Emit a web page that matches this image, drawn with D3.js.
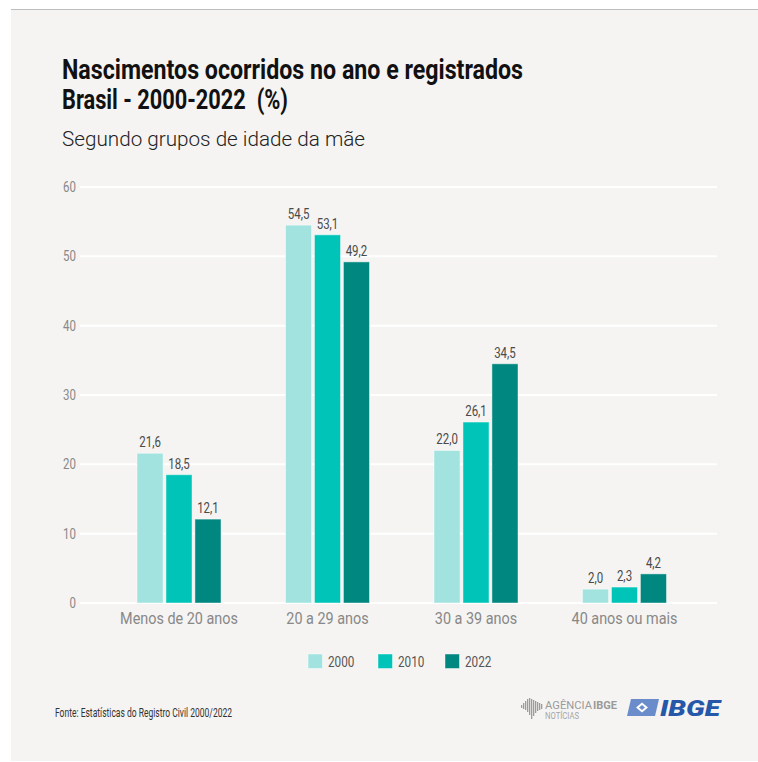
<!DOCTYPE html>
<html>
<head>
<meta charset="utf-8">
<script src="https://cdn.jsdelivr.net/npm/d3@7"></script>
<style>
  body { margin: 0; background: #ffffff; }
  svg { display: block; }
  text { font-family: Roboto, "Noto Sans", sans-serif; }
</style>
</head>
<body>
<svg id="chart" width="758" height="762"></svg>
<script>
// Age groups of the mother
const categories = ["Menos de 20 anos", "20 a 29 anos", "30 a 39 anos", "40 anos ou mais"];
// Survey years
const years = ["2000", "2010", "2022"];
// Share of births (%) by year
const values2000 = [21.6, 54.5, 22.0, 2.0];
const values2010 = [18.5, 53.1, 26.1, 2.3];
const values2022 = [12.1, 49.2, 34.5, 4.2];
const yTicks = [0, 10, 20, 30, 40, 50, 60];
const colors = ["#a2e3e0", "#00c4b8", "#00877f"];

const series = [values2000, values2010, values2022];
const fmt = v => d3.format(".1f")(v).replace(".", ",");

const svg = d3.select("#chart");

// panel background and top rule
svg.append("rect").attr("x", 11).attr("y", 9).attr("width", 747).attr("height", 752).attr("fill", "#f5f4f2");
svg.append("line").attr("x1", 11).attr("x2", 758).attr("y1", 9.5).attr("y2", 9.5).attr("stroke", "#bdbdbd").attr("stroke-width", 1);

// horizontally condensed text helper
function ctext(g, x, y, str, opts) {
  const o = Object.assign({ size: 14, sx: 0.84, fill: "#333", anchor: "start", weight: 400 }, opts || {});
  return g.append("text")
    .attr("transform", `translate(${x},${y}) scale(${o.sx},1)`)
    .attr("font-size", o.size)
    .attr("font-weight", o.weight)
    .attr("fill", o.fill)
    .attr("text-anchor", o.anchor)
    .text(str);
}

// title block
svg.append("text").attr("x", 62).attr("y", 78.5).attr("font-size", 27).attr("font-weight", 700)
  .attr("fill", "#111").attr("textLength", 461).attr("lengthAdjust", "spacingAndGlyphs")
  .text("Nascimentos ocorridos no ano e registrados");
svg.append("text").attr("x", 62).attr("y", 109).attr("font-size", 27).attr("font-weight", 700)
  .attr("fill", "#111").attr("textLength", 226).attr("lengthAdjust", "spacingAndGlyphs")
  .style("white-space", "pre")
  .text("Brasil - 2000-2022  (%)");
svg.append("text").attr("x", 62).attr("y", 146).attr("font-size", 21).attr("font-weight", 300)
  .attr("fill", "#222").attr("textLength", 303).attr("lengthAdjust", "spacingAndGlyphs")
  .text("Segundo grupos de idade da mãe");

// scales
const y = d3.scaleLinear().domain([0, 60]).range([603, 187]);
const x0 = d3.scalePoint().domain(categories).range([179, 624.5]);
const x1 = d3.scaleBand().domain(years).range([-42, 42]).paddingInner(0.1);

// grid lines and y tick labels
const grid = svg.append("g");
grid.selectAll("line").data(yTicks).join("line")
  .attr("x1", 80).attr("x2", 717)
  .attr("y1", d => y(d)).attr("y2", d => y(d))
  .attr("stroke", "#ffffff").attr("stroke-width", 2);
yTicks.forEach(t => ctext(grid, 76, y(t) + 5, String(t), { size: 14, fill: "#888", anchor: "end", sx: 0.82 }));

// bars
const bars = svg.append("g");
categories.forEach((c, i) => {
  years.forEach((yr, j) => {
    const v = series[j][i];
    const bx = x0(c) + x1(yr);
    bars.append("rect")
      .attr("x", bx).attr("y", y(v))
      .attr("width", x1.bandwidth()).attr("height", y(0) - y(v))
      .attr("fill", colors[j])
      .attr("stroke", "rgba(255,255,255,0.45)").attr("stroke-width", 1);
    ctext(bars, bx + x1.bandwidth() / 2, y(v) - 6, fmt(v), { size: 14, fill: "#4a4a4a", anchor: "middle", sx: 0.82 });
  });
  ctext(bars, x0(c), 624, c, { size: 16, fill: "#888", anchor: "middle", sx: 0.9 });
});

// legend
const legend = svg.append("g");
const legendX = [308, 378, 445];
years.forEach((yr, j) => {
  legend.append("rect").attr("x", legendX[j]).attr("y", 654).attr("width", 14.5).attr("height", 14.5)
    .attr("fill", colors[j]).attr("stroke", "rgba(255,255,255,0.45)");
  ctext(legend, legendX[j] + 20, 667, yr, { size: 14, fill: "#555", sx: 0.84 });
});

// source note
svg.append("text").attr("x", 55).attr("y", 717).attr("font-size", 13.5).attr("fill", "#333")
  .attr("textLength", 177).attr("lengthAdjust", "spacingAndGlyphs")
  .text("Fonte: Estatísticas do Registro Civil 2000/2022");

// Agência IBGE Notícias mark
const ag = svg.append("g").attr("fill", "#9c9c9c");
const barH = [[521, 705, 3], [523, 703, 6], [525, 701, 9], [527, 699, 13], [529, 698, 17], [531, 699, 20], [533, 700, 16], [535, 701, 12], [537, 702, 9], [539, 703, 7], [541, 704, 5]];
barH.forEach(b => ag.append("rect").attr("x", b[0]).attr("y", b[1]).attr("width", 1.3).attr("height", b[2]));
svg.append("text").attr("x", 545).attr("y", 708.5).attr("font-size", 11.5).attr("fill", "#9a9a9a")
  .attr("textLength", 47).attr("lengthAdjust", "spacingAndGlyphs").text("AGÊNCIA");
svg.append("text").attr("x", 593).attr("y", 708.5).attr("font-size", 11.5).attr("font-weight", 700).attr("fill", "#9a9a9a")
  .attr("textLength", 24).attr("lengthAdjust", "spacingAndGlyphs").text("IBGE");
svg.append("text").attr("x", 545).attr("y", 718.5).attr("font-size", 9).attr("fill", "#a5a5a5")
  .attr("textLength", 34).attr("lengthAdjust", "spacingAndGlyphs").text("NOTÍCIAS");

// IBGE mark
svg.append("path").attr("d", "M631,699 L659,699 L655,716 L627,716 Z").attr("fill", "#6b8ccb");
svg.append("path").attr("d", "M636,707.5 L642,702.5 L648,707.5 L642,712.5 Z").attr("fill", "#ffffff");
svg.append("path").attr("d", "M639,707.5 L642,705 L645,707.5 L642,710 Z").attr("fill", "#6b8ccb");
svg.append("text").attr("x", 660).attr("y", 716).attr("font-size", 22.5).attr("font-weight", 900)
  .attr("font-style", "italic").attr("fill", "#2757a8")
  .attr("textLength", 60).attr("lengthAdjust", "spacingAndGlyphs").text("IBGE");
</script>
</body>
</html>
